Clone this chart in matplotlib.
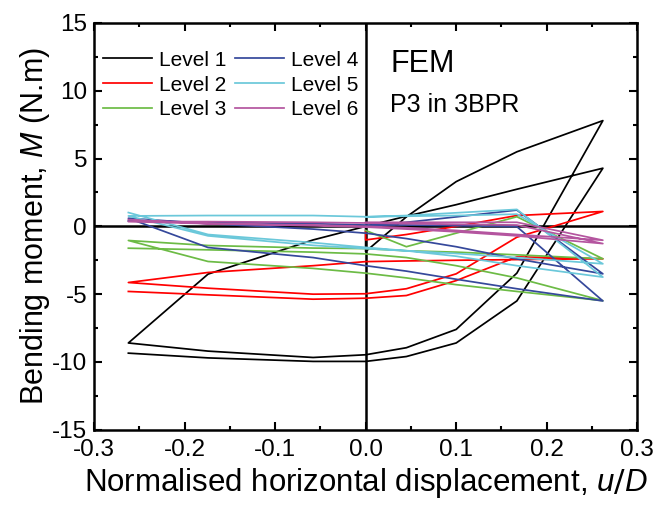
import matplotlib
matplotlib.use("Agg")
import matplotlib.pyplot as plt
from matplotlib.ticker import MultipleLocator

plt.rcParams["font.family"] = ["Liberation Sans", "DejaVu Sans"]
plt.rcParams["mathtext.fontset"] = "custom"
plt.rcParams["mathtext.it"] = "Liberation Sans:italic"
plt.rcParams["axes.unicode_minus"] = False

# displacement history (u/D) shared by every level
u_D = [0, 0, 0.045, 0.1, 0.167, 0.262, 0.167, 0.1, 0.045, 0, -0.058, -0.174, -0.262,
       -0.174, -0.058, 0, 0.045, 0.1, 0.167, 0.262, 0.167, 0.1, 0.045, 0, -0.058, -0.174, -0.262]

# bending moment (N.m) at each step of the history
level1 = [0.0, -1.86, 0.7, 3.3, 5.5, 7.8, -3.45, -7.6, -8.95, -9.47, -9.67, -9.2, -8.6,
          -3.52, -1.0, 0.0, 0.75, 1.6, 2.74, 4.29, -5.5, -8.6, -9.6, -9.96, -9.96, -9.7, -9.35]
level2 = [-0.4, -1.0, -0.6, 0.0, 0.8, 1.1, -0.8, -3.5, -4.6, -4.97, -5.0, -4.56, -4.14,
          -3.4, -2.9, -2.6, -2.55, -2.5, -2.45, -2.39, -2.25, -4.0, -5.1, -5.3, -5.37, -5.05, -4.8]
level3 = [-0.3, -0.3, -1.5, -0.5, 0.71, -2.39, -2.1, -1.9, -1.8, -1.64, -1.6, -1.41, -1.04,
          -2.59, -3.1, -3.45, -3.8, -4.3, -4.8, -5.48, -3.8, -2.9, -2.3, -2.03, -1.9, -1.73, -1.61]
level4 = [0.0, 0.0, 0.3, 0.7, 1.2, -3.5, -2.4, -1.5, -0.9, -0.5, -0.2, 0.2, 0.6,
          -1.56, -2.3, -2.9, -3.3, -3.9, -4.6, -5.5, -0.02, 0.05, 0.1, 0.1, 0.2, 0.3, 0.4]
level5 = [0.7, 0.7, 0.8, 1.0, 1.25, -3.74, -2.9, -2.2, -1.8, -1.64, -1.4, -0.7, 0.77,
          0.8, 0.8, 0.71, 0.75, 0.8, 0.9, -2.76, -2.3, -2.0, -1.8, -1.55, -1.2, -0.6, 1.02]
level6 = [0.3, 0.3, 0.3, 0.3, 0.3, -1.02, -0.6, -0.3, -0.1, 0.0, 0.1, 0.2, 0.35,
          0.35, 0.3, 0.25, 0.2, 0.15, 0.1, -1.27, -0.7, -0.4, -0.2, -0.05, 0.05, 0.2, 0.5]

levels = [level1, level2, level3, level4, level5, level6]
labels = ["Level 1", "Level 2", "Level 3", "Level 4", "Level 5", "Level 6"]
colors = ["#000000", "#ff0000", "#6cbb45", "#35489b", "#6bc8da", "#b4559f"]

fig = plt.figure(figsize=(6.57, 5.11), dpi=100)
ax = fig.add_axes([0.143, 0.159, 0.827, 0.796])

for m, lab, c in zip(levels, labels, colors):
    ax.plot(u_D, m, color=c, lw=1.25, label=lab)

ax.axhline(0, color="black", lw=1.8, zorder=1)
ax.axvline(0, color="black", lw=1.8, zorder=1)

ax.set_xlim(-0.3, 0.3)
ax.set_ylim(-15, 15)
ax.xaxis.set_major_locator(MultipleLocator(0.1))
ax.xaxis.set_minor_locator(MultipleLocator(0.05))
ax.yaxis.set_major_locator(MultipleLocator(5))
ax.yaxis.set_minor_locator(MultipleLocator(2.5))
ax.set_xticklabels([f"{v:.1f}" for v in ax.get_xticks()])
ax.tick_params(which="both", direction="in", top=True, right=True, labelsize=17.5, width=1.5)
ax.tick_params(which="major", length=6)
ax.tick_params(which="minor", length=3)
ax.tick_params(axis="x", pad=7)
ax.tick_params(axis="y", pad=5)
for s in ax.spines.values():
    s.set_linewidth(1.8)

ax.set_xlabel("Normalised horizontal displacement, $u/D$", fontsize=22.5, labelpad=3)
ax.set_ylabel("Bending moment, $M$ (N.m)", fontsize=22, labelpad=0)

ax.text(0.027, 11.4, "FEM", fontsize=22)
ax.text(0.027, 8.4, "P3 in 3BPR", fontsize=18)

ax.legend(loc="upper left", ncol=2, frameon=False, fontsize=15, handlelength=2.35,
          handletextpad=0.3, columnspacing=0.45, labelspacing=0.28,
          bbox_to_anchor=(-0.017, 0.978))

fig.savefig("out.png", dpi=100)
